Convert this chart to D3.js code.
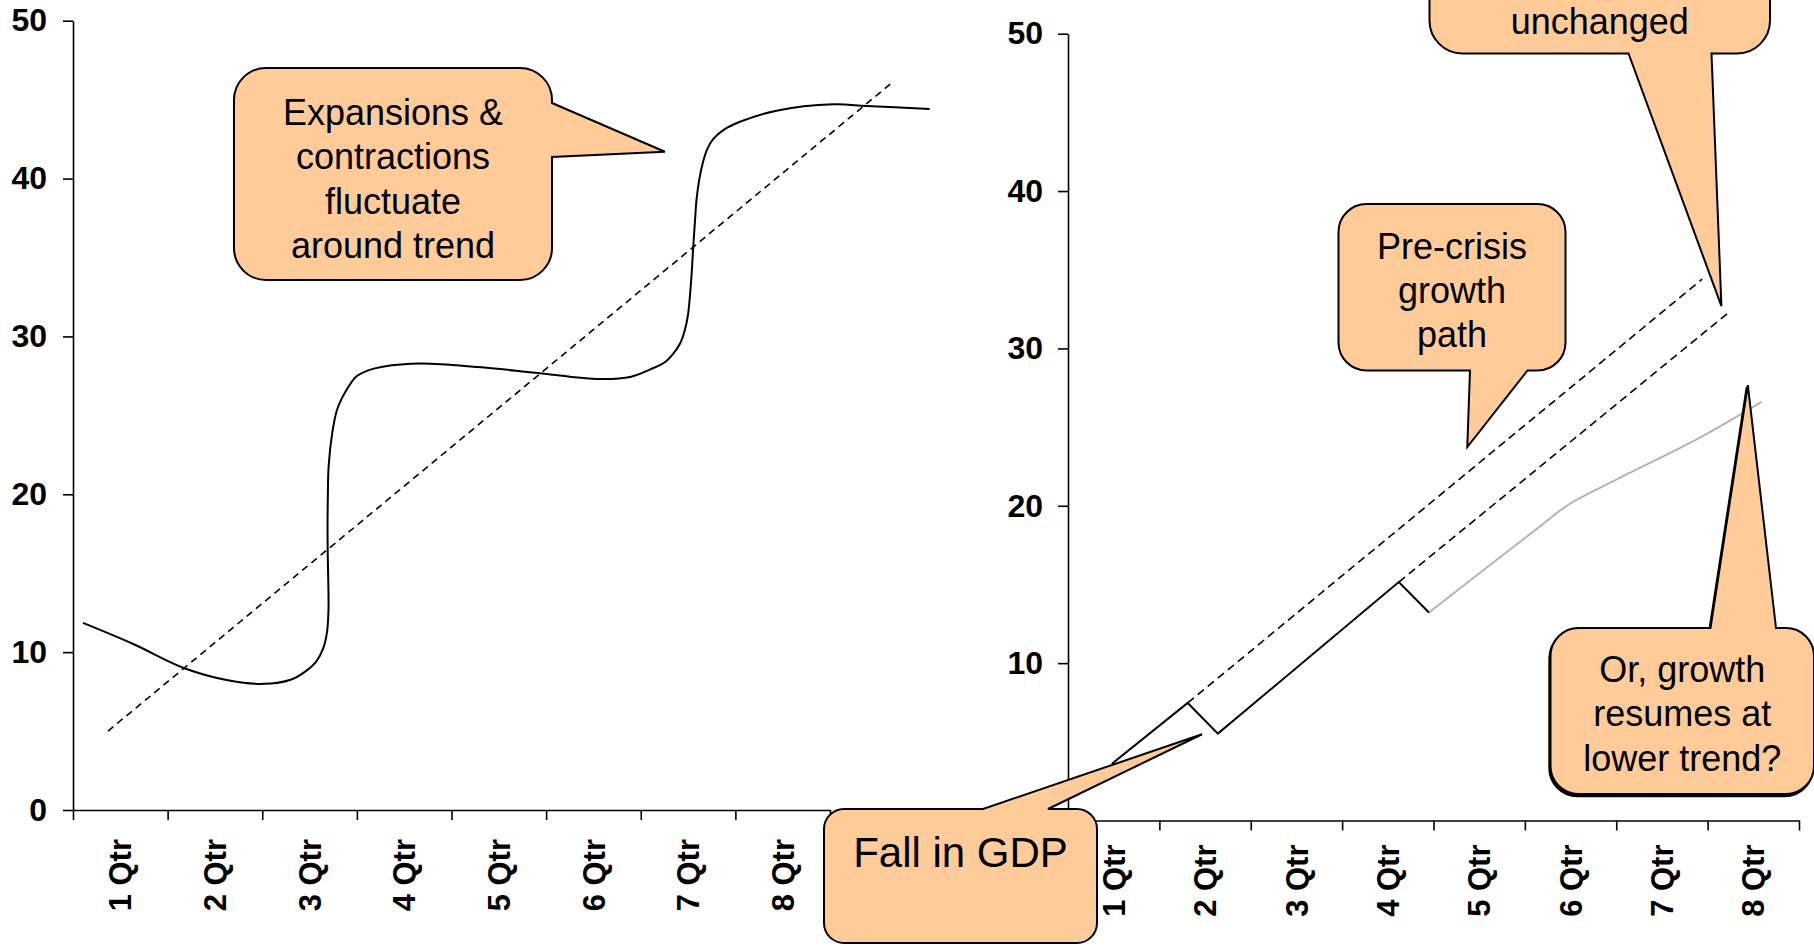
<!DOCTYPE html>
<html>
<head>
<meta charset="utf-8">
<script src="https://cdn.jsdelivr.net/npm/d3@7"></script>
<style>
  body { margin: 0; background: #fff; }
  svg { display: block; }
  text { font-family: "Liberation Sans", Arial, sans-serif; }
</style>
</head>
<body>
<svg id="chart" width="1814" height="946"></svg>
<script>
// ---- data ----------------------------------------------------------------
const quarters = ["1 Qtr", "2 Qtr", "3 Qtr", "4 Qtr", "5 Qtr", "6 Qtr", "7 Qtr", "8 Qtr"];
const leftYTicks = [0, 10, 20, 30, 40, 50];
const rightYTicks = [10, 20, 30, 40, 50];

// Left panel: business-cycle path (position in quarters from the origin, level)
const cycleQ = [0.106, 0.642, 1.178, 1.65, 2.016, 2.30, 2.45, 2.57, 2.645, 2.685, 2.70, 2.698, 2.692,
                2.690, 2.693, 2.702, 2.740, 2.788, 2.838, 2.910, 2.991, 3.120, 3.273, 3.675, 4.28,
                4.89, 5.568, 5.90, 6.096, 6.250, 6.342, 6.420, 6.466, 6.500, 6.519, 6.538, 6.554,
                6.572, 6.59, 6.620, 6.66, 6.705, 6.765, 6.880, 7.048, 7.435, 8.034, 8.387, 9.053];
const cycleV = [11.85, 10.5, 8.98, 8.2, 7.99, 8.25, 8.75, 9.40, 10.25, 11.30, 12.70, 14.40, 16.20,
                18.00, 19.80, 21.80, 23.90, 25.31, 26.04, 26.80, 27.45, 27.85, 28.08, 28.28, 28.06,
                27.7, 27.3, 27.45, 27.9, 28.35, 28.9, 29.60, 30.4, 31.40, 32.5, 34.00, 35.6,
                37.20, 38.7, 40.00, 41.1, 41.90, 42.5, 43.10, 43.6, 44.3, 44.7, 44.6, 44.4];
// Left panel: long-run trend
const trendQ = [0.37, 8.64];
const trendV = [5, 46];

// Right panel: GDP with two falls
const gdpQ = [0.48, 1.31, 1.64, 3.62, 3.95];
const gdpV = [3.6, 7.47, 5.52, 15.15, 13.22];
// Right panel: pre-crisis path continued from the first peak
const preCrisisQ = [1.31, 6.94];
const preCrisisV = [7.47, 34.4];
// Right panel: trend growth unchanged from the second peak
const unchangedQ = [3.62, 7.24];
const unchangedV = [15.15, 32.33];
// Right panel: recovery along a lower trend
const lowerQ = [3.95, 5.13, 5.48, 5.99, 6.90, 7.59];
const lowerV = [13.22, 18.53, 20.08, 21.63, 24.28, 26.6];

// ---- drawing -------------------------------------------------------------
const svg = d3.select("#chart");
const FILL = "#FFCC99";

function makePanel(opt) {
  const x = d3.scaleLinear().domain([0, 8]).range([opt.left, opt.right]);
  const y = d3.scaleLinear().domain([0, 50]).range([opt.bottom, opt.top]);
  const g = svg.append("g");

  const yAxis = g.append("g")
    .attr("transform", `translate(${opt.left},0)`)
    .call(d3.axisLeft(y).tickValues(opt.yTicks).tickSize(10).tickSizeOuter(0).tickPadding(opt.pad));
  yAxis.select(".domain").attr("stroke", "#000").attr("stroke-width", 1.6);
  yAxis.selectAll(".tick line").attr("stroke", "#000").attr("stroke-width", 1.6);
  yAxis.selectAll(".tick text")
    .attr("fill", "#000").style("font-size", "32px").style("font-weight", "bold")
    .style("font-family", "'Liberation Sans', Arial, sans-serif");

  const xAxis = g.append("g")
    .attr("transform", `translate(0,${opt.bottom})`)
    .call(d3.axisBottom(x).tickValues(d3.range(0, 9)).tickSize(10).tickSizeOuter(0).tickFormat(""));
  xAxis.select(".domain").attr("stroke", "#000").attr("stroke-width", 1.6);
  xAxis.selectAll(".tick line").attr("stroke", "#000").attr("stroke-width", 1.6);

  g.append("g").selectAll("text").data(quarters).join("text")
    .attr("transform", (d, i) => `translate(${x(i + 0.5)},${opt.bottom + opt.labelGap}) rotate(-90)`)
    .attr("text-anchor", "end")
    .attr("dy", "0.36em")
    .style("font-size", "31px").style("font-weight", "bold")
    .text(d => d);

  return { x, y, g };
}

function series(qs, vs) { return qs.map((q, i) => [q, vs[i]]); }

// Left panel
const L = makePanel({ left: 73, right: 830, top: 20.7, bottom: 810, pad: 16, labelGap: 29, yTicks: leftYTicks });
const lineL = d3.line().x(d => L.x(d[0])).y(d => L.y(d[1]));
L.g.append("path").datum(series(trendQ, trendV))
  .attr("d", lineL).attr("fill", "none").attr("stroke", "#000")
  .attr("stroke-width", 1.6).attr("stroke-dasharray", "7,5");
L.g.append("path").datum(series(cycleQ, cycleV))
  .attr("d", d3.line().x(d => L.x(d[0])).y(d => L.y(d[1])).curve(d3.curveCatmullRom.alpha(0.5)))
  .attr("fill", "none").attr("stroke", "#000").attr("stroke-width", 2);

// Right panel
const R = makePanel({ left: 1068, right: 1799, top: 33.7, bottom: 820.5, pad: 15, labelGap: 24, yTicks: rightYTicks });
const lineR = d3.line().x(d => R.x(d[0])).y(d => R.y(d[1]));
R.g.append("path").datum(series(preCrisisQ, preCrisisV))
  .attr("d", lineR).attr("fill", "none").attr("stroke", "#000")
  .attr("stroke-width", 1.6).attr("stroke-dasharray", "8,5");
R.g.append("path").datum(series(unchangedQ, unchangedV))
  .attr("d", lineR).attr("fill", "none").attr("stroke", "#000")
  .attr("stroke-width", 1.6).attr("stroke-dasharray", "8,5");
R.g.append("path").datum(series(lowerQ, lowerV))
  .attr("d", d3.line().x(d => R.x(d[0])).y(d => R.y(d[1])).curve(d3.curveCatmullRom.alpha(0.5)))
  .attr("fill", "none").attr("stroke", "#b4b4b4").attr("stroke-width", 2);
R.g.append("path").datum(series(gdpQ, gdpV))
  .attr("d", lineR).attr("fill", "none").attr("stroke", "#000").attr("stroke-width", 2);

// ---- callouts --------------------------------------------------------------
// Rounded box with a wedge pointer leaving one side (b0 < b1 along that side).
function calloutPath(b, side, b0, b1, tip) {
  const { x0, y0, x1, y1, r } = b;
  const p = d3.path();
  p.moveTo(x0 + r, y0);
  if (side === "top") { p.lineTo(b0, y0); p.lineTo(tip[0], tip[1]); p.lineTo(b1, y0); }
  p.lineTo(x1 - r, y0);
  p.arcTo(x1, y0, x1, y0 + r, r);
  if (side === "right") { p.lineTo(x1, b0); p.lineTo(tip[0], tip[1]); p.lineTo(x1, b1); }
  p.lineTo(x1, y1 - r);
  p.arcTo(x1, y1, x1 - r, y1, r);
  if (side === "bottom") { p.lineTo(b1, y1); p.lineTo(tip[0], tip[1]); p.lineTo(b0, y1); }
  p.lineTo(x0 + r, y1);
  p.arcTo(x0, y1, x0, y1 - r, r);
  p.lineTo(x0, y0 + r);
  p.arcTo(x0, y0, x0 + r, y0, r);
  p.closePath();
  return p.toString();
}

function callout(c) {
  const g = svg.append("g");
  const d = calloutPath(c.box, c.side, c.b0, c.b1, c.tip);
  if (c.shadow) {
    g.append("path").attr("d", d).attr("transform", "translate(-1.2,2.2)")
      .attr("fill", "#000").attr("stroke", "#000").attr("stroke-width", 2);
  }
  g.append("path").attr("d", d).attr("fill", FILL)
    .attr("stroke", "#000").attr("stroke-width", 2).attr("stroke-linejoin", "miter");
  const cx = (c.box.x0 + c.box.x1) / 2;
  g.selectAll("text").data(c.lines).join("text")
    .attr("x", cx).attr("y", (d, i) => c.baseline + i * c.lineHeight)
    .attr("text-anchor", "middle").style("font-size", c.size + "px").attr("fill", "#000")
    .text(d => d);
}

callout({
  box: { x0: 234, y0: 68, x1: 552, y1: 280, r: 32 }, side: "right", b0: 103, b1: 157,
  tip: [L.x(6.255), L.y(41.7)],
  lines: ["Expansions &", "contractions", "fluctuate", "around trend"],
  baseline: 124.5, lineHeight: 44.5, size: 36
});
callout({
  box: { x0: 1338.5, y0: 204, x1: 1565.5, y1: 370.5, r: 28 }, side: "bottom", b0: 1470, b1: 1527.5,
  tip: [R.x(4.37), R.y(23.73)],
  lines: ["Pre-crisis", "growth", "path"],
  baseline: 258.5, lineHeight: 44, size: 36
});
callout({
  box: { x0: 1429.5, y0: -80, x1: 1770, y1: 53.5, r: 33 }, side: "bottom", b0: 1628.5, b1: 1711.5,
  tip: [R.x(7.151), R.y(32.69)],
  lines: ["unchanged"],
  baseline: 33.5, lineHeight: 44, size: 36
});
callout({
  box: { x0: 1550.5, y0: 628, x1: 1814, y1: 794, r: 28 }, side: "top", b0: 1710.5, b1: 1776,
  tip: [R.x(7.44), R.y(27.67)],
  lines: ["Or, growth", "resumes at", "lower trend?"],
  baseline: 682, lineHeight: 44.4, size: 36, shadow: true
});
callout({
  box: { x0: 824, y0: 809, x1: 1097, y1: 943, r: 20 }, side: "top", b0: 983, b1: 1048,
  tip: [R.x(1.467), R.y(5.48)],
  lines: ["Fall in GDP"],
  baseline: 867, lineHeight: 44, size: 42
});
</script>
</body>
</html>
